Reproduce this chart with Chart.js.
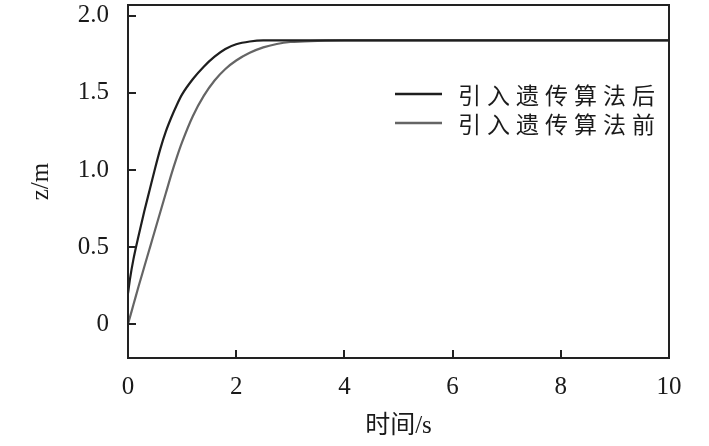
<!DOCTYPE html>
<html>
<head>
<meta charset="utf-8">
<script src="https://cdn.jsdelivr.net/npm/chart.js@4"></script>
<style>
  html, body { margin: 0; padding: 0; background: #fff; }
</style>
</head>
<body>
<canvas id="responseChart" width="709" height="446"></canvas>
<script>
// data
const times = [0, 0.04, 0.1, 0.2, 0.3, 0.4, 0.5, 0.6, 0.7, 0.8, 0.9, 1.0, 1.2, 1.4, 1.6, 1.8, 2.0, 2.25, 2.5, 2.75, 3.0, 3.5, 4.0, 5, 6, 8, 10];
const zAfter = [0.2, 0.3, 0.42, 0.58, 0.73, 0.87, 1.01, 1.14, 1.25, 1.34, 1.42, 1.49, 1.59, 1.67, 1.735, 1.785, 1.815, 1.833, 1.84, 1.84, 1.84, 1.84, 1.84, 1.84, 1.84, 1.84, 1.84];
const zBefore = [0, 0.05, 0.125, 0.25, 0.37, 0.49, 0.61, 0.73, 0.85, 0.97, 1.08, 1.18, 1.35, 1.48, 1.58, 1.655, 1.71, 1.76, 1.795, 1.817, 1.83, 1.837, 1.84, 1.84, 1.84, 1.84, 1.84];
const seriesNames = ["引入遗传算法后", "引入遗传算法前"];
const xTicks = [0, 2, 4, 6, 8, 10];
const yTicks = [0, 0.5, 1.0, 1.5, 2.0];
const yTickLabels = ["0", "0.5", "1.0", "1.5", "2.0"];

const serif = '"Liberation Serif", "Noto Sans CJK SC", serif';
const cjk = '"Noto Sans CJK SC", sans-serif';
const ink = "#1a1a1a";

const toPoints = vals => times.map((t, i) => ({ x: t, y: vals[i] }));

// box, inward ticks and the legend inside the plot
const framePlugin = {
    id: "framePlugin",
    afterDraw(chart) {
        const { ctx, chartArea: a, scales: { x, y } } = chart;
        ctx.save();
        ctx.strokeStyle = "#222";
        ctx.lineWidth = 2;
        ctx.strokeRect(a.left, a.top, a.right - a.left, a.bottom - a.top);
        ctx.beginPath();
        x.ticks.forEach(t => {
            const px = Math.round(x.getPixelForValue(t.value));
            ctx.moveTo(px, a.bottom);
            ctx.lineTo(px, a.bottom - 8);
        });
        y.ticks.forEach(t => {
            const py = Math.round(y.getPixelForValue(t.value));
            ctx.moveTo(a.left, py);
            ctx.lineTo(a.left + 8, py);
        });
        ctx.stroke();

        // legend
        ctx.font = "23px " + cjk;
        ctx.letterSpacing = "6px";
        ctx.textBaseline = "middle";
        ctx.fillStyle = ink;
        chart.data.datasets.forEach((ds, i) => {
            const rowY = a.top + 89 + i * 29;
            ctx.strokeStyle = ds.borderColor;
            ctx.lineWidth = 2.5;
            ctx.beginPath();
            ctx.moveTo(a.right - 274, rowY);
            ctx.lineTo(a.right - 227, rowY);
            ctx.stroke();
            ctx.fillText(ds.label, a.right - 211, rowY + 1);
        });
        ctx.restore();
    }
};

const ctx = document.getElementById("responseChart").getContext("2d");
new Chart(ctx, {
    type: "line",
    data: {
        datasets: [
            {
                label: seriesNames[0],
                data: toPoints(zAfter),
                borderColor: "#1e1e1e",
                borderWidth: 2.2,
                pointRadius: 0,
                cubicInterpolationMode: "monotone",
            },
            {
                label: seriesNames[1],
                data: toPoints(zBefore),
                borderColor: "#656565",
                borderWidth: 2.2,
                pointRadius: 0,
                cubicInterpolationMode: "monotone",
            },
        ],
    },
    options: {
        responsive: false,
        animation: false,
        layout: { padding: { top: 5, right: 40, left: 0, bottom: 0 } },
        plugins: {
            legend: { display: false },
            tooltip: { enabled: false },
        },
        scales: {
            x: {
                type: "linear",
                min: 0,
                max: 10,
                grid: { display: false },
                border: { display: false },
                afterBuildTicks: s => { s.ticks = xTicks.map(v => ({ value: v })); },
                afterFit: s => { s.height = 88; s.paddingLeft = 0; s.paddingRight = 0; },
                ticks: {
                    color: ink,
                    font: { family: serif, size: 25 },
                    padding: 6,
                    maxRotation: 0,
                },
                title: {
                    display: true,
                    text: "时间/s",
                    color: ink,
                    font: { family: serif, size: 25 },
                    padding: { top: 0, bottom: 5 },
                },
            },
            y: {
                type: "linear",
                min: -0.22,
                max: 2.07,
                grid: { display: false },
                border: { display: false },
                afterBuildTicks: s => { s.ticks = yTicks.map(v => ({ value: v })); },
                afterFit: s => { s.width = 128; s.paddingTop = 0; s.paddingBottom = 0; },
                ticks: {
                    color: ink,
                    font: { family: serif, size: 25 },
                    padding: 11,
                    callback: (v, i) => yTickLabels[i],
                },
                title: {
                    display: true,
                    text: "z/m",
                    color: ink,
                    font: { family: serif, size: 25 },
                    padding: { top: 26, bottom: 0 },
                },
            },
        },
    },
    plugins: [framePlugin],
});
</script>
</body>
</html>
